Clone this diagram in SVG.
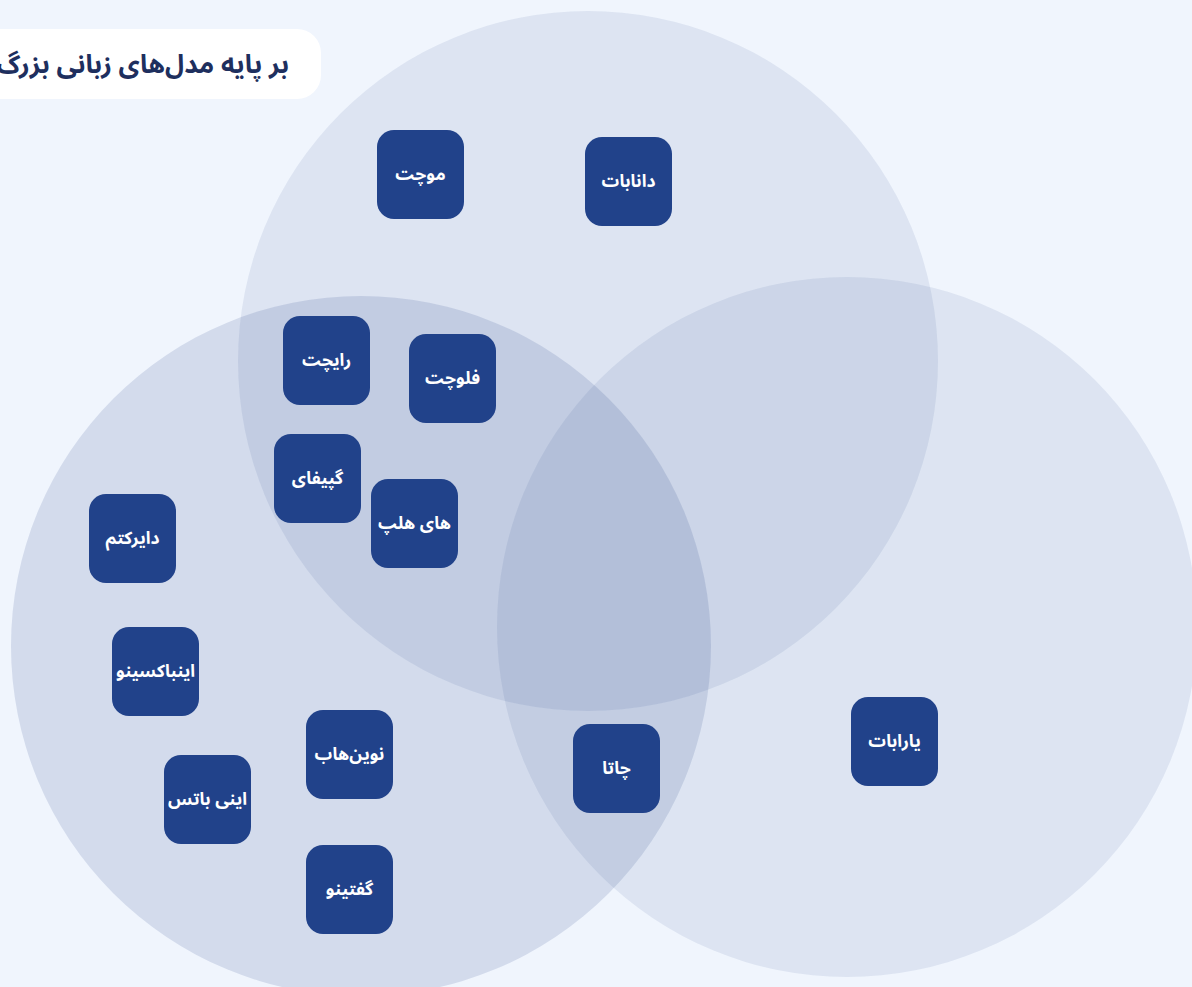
<svg xmlns="http://www.w3.org/2000/svg" width="1192" height="987" viewBox="0 0 1192 987">
<style>
.circ{fill:#21428a}
.node use{fill:#21428a}
.node text{fill:#ffffff;font-family:"Noto Sans Arabic","DejaVu Sans","Noto Sans",sans-serif;font-size:17.5px;font-weight:bold;text-anchor:middle;dominant-baseline:central}
.title{fill:#1e2f5e;font-family:"Noto Sans Arabic","DejaVu Sans","Noto Sans",sans-serif;font-size:26px;font-weight:bold;text-anchor:end}
</style>
<defs>
<rect id="box" x="-43.5" y="-44.5" width="87" height="89" rx="17"/>
</defs>
<rect x="0" y="0" width="1192" height="987" fill="#f0f5fd"/>
<g id="circles">
<circle class="circ" cx="588" cy="361" r="350" opacity="0.09"/>
<circle class="circ" cx="361" cy="646" r="350" opacity="0.14"/>
<circle class="circ" cx="847" cy="627" r="350" opacity="0.09"/>
</g>
<g id="title">
<rect x="-40" y="29" width="361" height="70" rx="24" fill="#ffffff"/>
<text class="title" x="289" y="73">بر پایه مدل‌های زبانی بزرگ</text>
</g>
<g id="connectors"></g>
<g id="n-mochat" class="node" transform="translate(420.5,174.5)"><use href="#box"/><text x="0" y="0">موچت</text></g>
<g id="n-danabot" class="node" transform="translate(628.5,181.5)"><use href="#box"/><text x="0" y="0">دانابات</text></g>
<g id="n-raychat" class="node" transform="translate(326.5,360.5)"><use href="#box"/><text x="0" y="0">رایچت</text></g>
<g id="n-flowchat" class="node" transform="translate(452.5,378.5)"><use href="#box"/><text x="0" y="0">فلوچت</text></g>
<g id="n-gapify" class="node" transform="translate(317.5,478.5)"><use href="#box"/><text x="0" y="0">گپیفای</text></g>
<g id="n-hihelp" class="node" transform="translate(414.5,523.5)"><use href="#box"/><text x="0" y="0">های هلپ</text></g>
<g id="n-directam" class="node" transform="translate(132.5,538.5)"><use href="#box"/><text x="0" y="0">دایرکتم</text></g>
<g id="n-inboxino" class="node" transform="translate(155.5,671.5)"><use href="#box"/><text x="0" y="0">اینباکسینو</text></g>
<g id="n-novinhub" class="node" transform="translate(349.5,754.5)"><use href="#box"/><text x="0" y="0">نوین‌هاب</text></g>
<g id="n-inibots" class="node" transform="translate(207.5,799.5)"><use href="#box"/><text x="0" y="0">اینی باتس</text></g>
<g id="n-goftino" class="node" transform="translate(349.5,889.5)"><use href="#box"/><text x="0" y="0">گفتینو</text></g>
<g id="n-chata" class="node" transform="translate(616.5,768.5)"><use href="#box"/><text x="0" y="0">چاتا</text></g>
<g id="n-yarabot" class="node" transform="translate(894.5,741.5)"><use href="#box"/><text x="0" y="0">یارابات</text></g>
</svg>
